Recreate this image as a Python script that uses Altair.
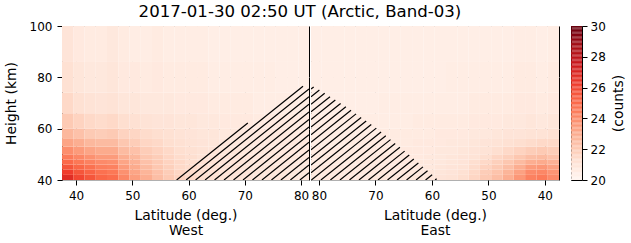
import altair as alt
import numpy as np
import pandas as pd

TITLE = "2017-01-30 02:50 UT (Arctic, Band-03)"
FONT = "DejaVu Sans"
LAT_MIN = 37.5
CENTER = 81.4

lat_edges = [37.5, 39.5, 41.5, 43.5, 45.5, 47.5, 49.5, 51.5, 53.5, 55.5, 57.5,
             59.5, 61.5, 63.5, 65.5, 67.5, 69.5, 71.5, 73.5, 75.5, 77.5, 79.5, 81.4]
height_edges = [40, 42, 44, 46, 48, 50, 53, 56, 60, 66, 74, 86, 100]

# counts, rows bottom->top, columns from low latitude to high latitude
WEST = [
    [26.8, 26.0, 25.6, 25.1, 24.9, 24.1, 23.4, 22.9, 22.4, 22.0, 21.7, 21.5, 21.3, 21.2, 21.1, 21.0, 21.0, 20.9, 20.9, 20.9, 20.8, 20.8],
    [26.2, 25.6, 25.2, 24.8, 24.6, 23.8, 23.2, 22.7, 22.3, 21.9, 21.6, 21.4, 21.3, 21.2, 21.1, 21.0, 21.0, 20.9, 20.9, 20.9, 20.8, 20.8],
    [25.6, 25.1, 24.8, 24.4, 24.3, 23.5, 23.0, 22.5, 22.1, 21.8, 21.5, 21.4, 21.2, 21.1, 21.0, 21.0, 20.9, 20.9, 20.9, 20.8, 20.8, 20.8],
    [25.0, 24.6, 24.3, 24.0, 23.9, 23.2, 22.8, 22.3, 22.0, 21.7, 21.5, 21.3, 21.2, 21.1, 21.0, 21.0, 20.9, 20.9, 20.8, 20.8, 20.8, 20.8],
    [24.5, 24.1, 23.8, 23.5, 23.5, 22.9, 22.6, 22.1, 21.9, 21.6, 21.4, 21.3, 21.1, 21.0, 21.0, 20.9, 20.9, 20.8, 20.8, 20.8, 20.8, 20.7],
    [23.9, 23.5, 23.2, 23.0, 23.0, 22.5, 22.3, 21.9, 21.7, 21.5, 21.3, 21.2, 21.1, 21.0, 20.9, 20.9, 20.8, 20.8, 20.8, 20.7, 20.7, 20.7],
    [23.2, 22.9, 22.6, 22.5, 22.5, 22.1, 21.9, 21.6, 21.5, 21.3, 21.2, 21.1, 21.0, 20.9, 20.9, 20.8, 20.8, 20.7, 20.7, 20.7, 20.7, 20.7],
    [22.6, 22.3, 22.0, 21.9, 22.0, 21.7, 21.6, 21.4, 21.3, 21.2, 21.1, 21.0, 20.9, 20.9, 20.8, 20.8, 20.7, 20.7, 20.7, 20.7, 20.6, 20.6],
    [22.0, 21.7, 21.5, 21.4, 21.5, 21.3, 21.2, 21.1, 21.0, 21.0, 20.9, 20.9, 20.8, 20.8, 20.7, 20.7, 20.7, 20.6, 20.6, 20.6, 20.6, 20.6],
    [21.5, 21.2, 21.1, 21.0, 21.1, 20.9, 20.9, 20.8, 20.8, 20.8, 20.7, 20.7, 20.7, 20.6, 20.6, 20.6, 20.6, 20.5, 20.5, 20.5, 20.5, 20.5],
    [21.2, 20.9, 20.8, 20.8, 20.9, 20.7, 20.7, 20.6, 20.7, 20.6, 20.6, 20.6, 20.6, 20.5, 20.5, 20.5, 20.5, 20.5, 20.5, 20.4, 20.4, 20.4],
    [21.0, 20.7, 20.6, 20.6, 20.8, 20.6, 20.5, 20.5, 20.6, 20.5, 20.5, 20.5, 20.5, 20.4, 20.4, 20.4, 20.4, 20.4, 20.4, 20.4, 20.4, 20.4],
]
EAST = [
    [24.0, 24.5, 24.3, 23.6, 22.9, 22.4, 22.0, 21.6, 21.3, 21.1, 21.0, 20.9, 20.9, 20.8, 20.8, 20.8, 20.8, 20.7, 20.7, 20.7, 20.7, 20.7],
    [23.7, 24.1, 24.0, 23.3, 22.7, 22.2, 21.9, 21.5, 21.2, 21.0, 20.9, 20.9, 20.8, 20.8, 20.8, 20.8, 20.7, 20.7, 20.7, 20.7, 20.7, 20.7],
    [23.3, 23.6, 23.5, 22.9, 22.4, 22.0, 21.7, 21.4, 21.1, 21.0, 20.9, 20.8, 20.8, 20.8, 20.7, 20.7, 20.7, 20.7, 20.7, 20.7, 20.7, 20.7],
    [22.8, 23.0, 22.9, 22.5, 22.1, 21.8, 21.5, 21.3, 21.0, 20.9, 20.8, 20.8, 20.8, 20.7, 20.7, 20.7, 20.7, 20.7, 20.6, 20.6, 20.6, 20.6],
    [22.3, 22.5, 22.4, 22.1, 21.8, 21.6, 21.3, 21.1, 21.0, 20.9, 20.8, 20.8, 20.7, 20.7, 20.7, 20.7, 20.6, 20.6, 20.6, 20.6, 20.6, 20.6],
    [21.9, 22.0, 21.9, 21.7, 21.5, 21.3, 21.1, 21.0, 20.9, 20.8, 20.8, 20.7, 20.7, 20.7, 20.6, 20.6, 20.6, 20.6, 20.6, 20.6, 20.6, 20.6],
    [21.5, 21.5, 21.4, 21.3, 21.2, 21.1, 21.0, 20.9, 20.8, 20.8, 20.7, 20.7, 20.7, 20.6, 20.6, 20.6, 20.6, 20.6, 20.6, 20.5, 20.5, 20.5],
    [21.2, 21.1, 21.1, 21.0, 21.0, 20.9, 20.8, 20.8, 20.7, 20.7, 20.7, 20.6, 20.6, 20.6, 20.6, 20.6, 20.5, 20.5, 20.5, 20.5, 20.5, 20.5],
    [20.9, 20.8, 20.9, 20.8, 20.8, 20.7, 20.7, 20.7, 20.6, 20.6, 20.6, 20.6, 20.6, 20.5, 20.5, 20.5, 20.5, 20.5, 20.5, 20.5, 20.5, 20.5],
    [20.7, 20.6, 20.7, 20.7, 20.6, 20.6, 20.6, 20.6, 20.5, 20.5, 20.5, 20.5, 20.5, 20.5, 20.5, 20.5, 20.4, 20.4, 20.4, 20.4, 20.4, 20.4],
    [20.6, 20.5, 20.6, 20.6, 20.5, 20.5, 20.5, 20.5, 20.5, 20.5, 20.4, 20.4, 20.4, 20.4, 20.4, 20.4, 20.4, 20.4, 20.4, 20.4, 20.4, 20.4],
    [20.5, 20.4, 20.5, 20.5, 20.4, 20.4, 20.4, 20.4, 20.4, 20.4, 20.4, 20.4, 20.4, 20.4, 20.4, 20.4, 20.4, 20.4, 20.4, 20.4, 20.4, 20.4],
]

# upper limit of the hatched (no-data) region
west_bound_lat = [57.8, 69.0, 75.0, 79.5, 81.4]
west_bound_h = [40.0, 60.0, 68.8, 76.3, 76.8]
east_bound_lat = [81.4, 80.0, 75.0, 69.7, 64.3, 58.9]
east_bound_h = [76.8, 75.2, 68.2, 60.0, 50.3, 40.0]

lat_ticks = [40, 50, 60, 70, 80]
height_ticks = [40, 60, 80, 100]
cbar_ticks = [20, 22, 24, 26, 28, 30]
CMIN, CMAX = 20, 30
REDS = ["#fff5f0", "#fee0d2", "#fcbba1", "#fc9272", "#fb6a4a",
        "#ef3b2c", "#cb181d", "#a50f15", "#67000d"]

W_WEST, W_EAST, H, W_CBAR = 247, 248, 154, 11

# ---------- heatmap table
recs = []
for side, table in (("West", WEST), ("East", EAST)):
    for r in range(len(height_edges) - 1):
        for c in range(len(lat_edges) - 1):
            recs.append(dict(side=side, lat0=lat_edges[c], lat1=lat_edges[c + 1],
                             h0=height_edges[r], h1=height_edges[r + 1], v=table[r][c]))
df = pd.DataFrame(recs)

# ---------- colour bar (the colour key, stepped through the scale's range)
lv = np.linspace(CMIN, CMAX, 121)
cbar_df = pd.DataFrame({"lo": lv[:-1], "hi": lv[1:], "mid": (lv[:-1] + lv[1:]) / 2})

# ---------- hatch (parallel lines in screen space, clipped to the region)
KX = (W_WEST + W_EAST) / (2 * (CENTER - LAT_MIN))
KY = H / 60.0
STEP = 9.5      # horizontal spacing of hatch lines, px
SLOPE = 0.8     # rise per px of the hatch lines
bp = np.array(west_bound_lat + [2 * CENTER - l for l in east_bound_lat[1:]])
bh = np.array(west_bound_h + east_bound_h[1:])
BX = (bp - LAT_MIN) * KX
BY = (bh - 40) * KY
xc = (CENTER - LAT_MIN) * KX
segs = []
for c in np.arange(BX[0] + 0.4, BX[-1], STEP):
    xs = np.linspace(c, BX[-1], 4000)
    gap = SLOPE * (xs - c) - np.interp(xs, BX, BY)
    k = int(np.argmax(gap[1:] >= 0)) + 1
    g0, g1 = gap[k - 1], gap[k]
    xe = xs[k - 1] + (xs[k] - xs[k - 1]) * (-g0) / (g1 - g0) if g1 != g0 else xs[k]
    if xe - c < 1:
        continue
    p0, h0 = LAT_MIN + c / KX, 40.0
    p1, h1 = LAT_MIN + xe / KX, 40.0 + SLOPE * (xe - c) / KY
    if xe <= xc:
        segs.append(dict(side="West", a=p0, b=p1, ha=h0, hb=h1))
    elif c >= xc:
        segs.append(dict(side="East", a=2 * CENTER - p0, b=2 * CENTER - p1, ha=h0, hb=h1))
    else:
        hc = 40.0 + SLOPE * (xc - c) / KY
        segs.append(dict(side="West", a=p0, b=CENTER, ha=h0, hb=hc))
        segs.append(dict(side="East", a=CENTER, b=2 * CENTER - p1, ha=hc, hb=h1))
hatch_df = pd.DataFrame(segs)

color_scale = alt.Scale(domain=[20, 21.25, 22.5, 23.75, 25, 26.25, 27.5, 28.75, 30],
                        range=REDS, type="linear")


def panel(side, width, reverse, show_y):
    x_scale = alt.Scale(domain=[LAT_MIN, CENTER], reverse=reverse, nice=False, zero=False)
    y_scale = alt.Scale(domain=[40, 100], nice=False, zero=False)
    x_axis = alt.Axis(values=lat_ticks, title=["Latitude (deg.)", side], format="d",
                      grid=True, labelFlush=False, titleLineHeight=15,
                      labelPadding=5, titlePadding=7)
    if show_y:
        y_axis = alt.Axis(values=height_ticks, title="Height (km)", grid=True,
                          labelPadding=5, titlePadding=11)
    else:
        y_axis = alt.Axis(values=height_ticks, title=None, labels=False, ticks=False, grid=True)
    heat = alt.Chart(df[df.side == side]).mark_rect(clip=True).encode(
        x=alt.X("lat0:Q", scale=x_scale, axis=x_axis),
        x2="lat1:Q",
        y=alt.Y("h0:Q", scale=y_scale, axis=y_axis),
        y2="h1:Q",
        color=alt.Color("v:Q", scale=color_scale, legend=None),
    )
    hatch = alt.Chart(hatch_df[hatch_df.side == side]).mark_rule(
        color="black", strokeWidth=1.2, clip=True).encode(
        x=alt.X("a:Q", scale=x_scale), x2="b:Q",
        y=alt.Y("ha:Q", scale=y_scale), y2="hb:Q",
    )
    return alt.layer(heat, hatch).properties(width=width, height=H)


cbar = alt.Chart(cbar_df).mark_rect().encode(
    x=alt.value(0), x2=alt.value(W_CBAR),
    y=alt.Y("lo:Q", scale=alt.Scale(domain=[CMIN, CMAX], nice=False, zero=False),
            axis=alt.Axis(orient="right", values=cbar_ticks, title="(counts)", grid=False,
                          labelPadding=3, titlePadding=6, titleAngle=270,
                          titleBaseline="top", zindex=1)),
    y2="hi:Q",
    color=alt.Color("mid:Q", scale=color_scale, legend=None),
).properties(width=W_CBAR, height=H)

main = alt.hconcat(
    panel("West", W_WEST, False, True),
    panel("East", W_EAST, True, False),
    spacing=0,
)

chart = alt.hconcat(main, cbar, spacing=10).properties(
    title=alt.TitleParams(TITLE, font=FONT, fontSize=16.6, fontWeight="normal",
                          color="black", anchor="start", dx=135, offset=-1),
    padding={"left": 3, "top": 3, "right": 2, "bottom": 2},
).configure_axis(
    labelFont=FONT, labelFontSize=12, labelColor="black",
    titleFont=FONT, titleFontSize=13.9, titleFontWeight="normal", titleColor="black",
    tickColor="black", tickSize=5, tickWidth=1, labelPadding=4,
    gridColor="#b0b0b0", gridWidth=1.1, domain=False, zindex=1,
).configure_view(
    stroke="black", strokeWidth=1,
).configure_scale(
    continuousPadding=0,
).resolve_scale(color="shared")

chart.save("out.html", embed_options={"renderer": "svg", "actions": False})
